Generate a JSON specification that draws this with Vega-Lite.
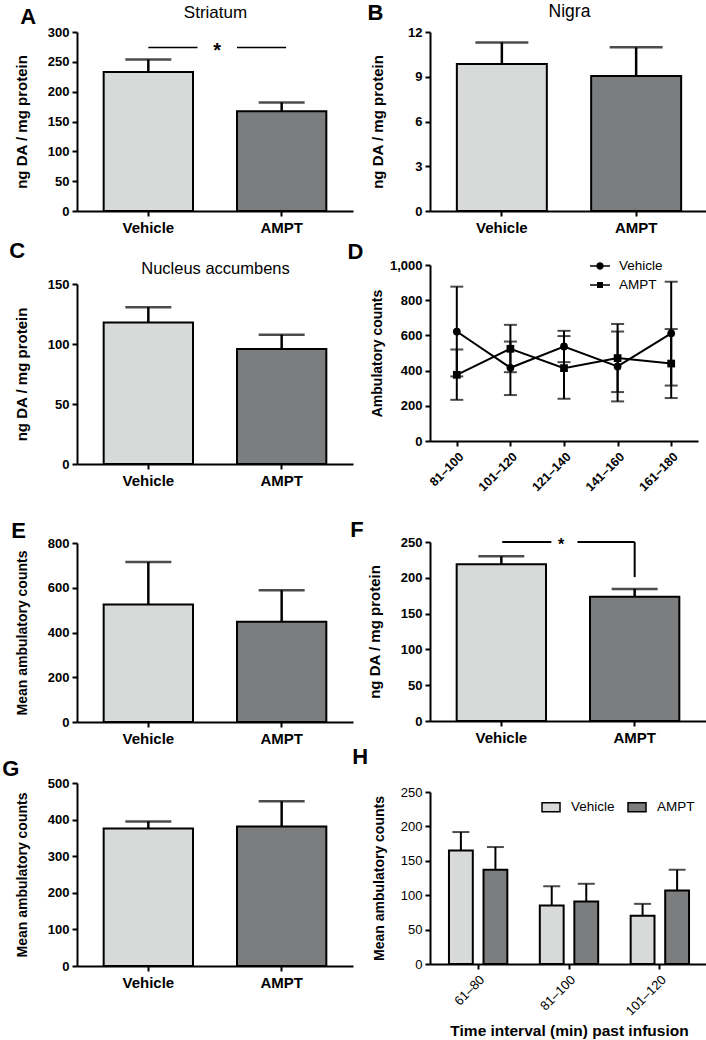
{
  "$schema": "https://vega.github.io/schema/vega-lite/v6.json",
  "background": "white",
  "padding": {"left": 2, "top": 2, "right": 0, "bottom": 0},
  "config": {
    "font": "Liberation Sans",
    "view": {"stroke": null},
    "axis": {"domainColor": "black", "domainWidth": 2, "tickColor": "black", "tickWidth": 2, "tickSize": 5, "labelColor": "black", "labelFontSize": 13, "labelFontWeight": "bold", "labelPadding": 3, "titleColor": "black", "titleFontSize": 15, "titleFontWeight": "bold", "grid": false},
    "title": {"color": "black", "fontSize": 22, "fontWeight": "bold", "anchor": "start", "frame": "bounds"},
    "legend": {"labelColor": "black"}
  },
  "resolve": {"scale": {"fill": "independent", "shape": "independent"}, "legend": {"fill": "independent", "shape": "independent"}},
  "hconcat": [
    {
      "resolve": {"scale": {"fill": "independent", "shape": "independent"}, "legend": {"fill": "independent", "shape": "independent"}},
      "vconcat": [
        {
          "width": 276, "height": 179,
          "title": {"text": "A", "offset": -26, "dx": 6},
          "data": {"values": [{"group": "Vehicle", "mean": 233, "upper": 254}, {"group": "AMPT", "mean": 167, "upper": 182}]},
          "layer": [
            {"mark": {"type": "bar", "stroke": "black", "strokeWidth": 2},
             "encoding": {
               "x": {"field": "group", "type": "nominal", "sort": ["Vehicle", "AMPT"], "scale": {"paddingInner": 0.33, "paddingOuter": 0.2}, "axis": {"title": null, "labelAngle": 0, "labelFontSize": 15, "labelPadding": 4}},
               "y": {"field": "mean", "type": "quantitative", "title": "ng DA / mg protein", "scale": {"domain": [0, 300], "nice": false}, "axis": {"values": [0, 50, 100, 150, 200, 250, 300], "titlePadding": 18}},
               "fill": {"field": "group", "type": "nominal", "scale": {"domain": ["Vehicle", "AMPT"], "range": ["#d8dada", "#7c7d7f"]}, "legend": null}
             }},
            {"mark": {"type": "rule", "strokeWidth": 2.5, "color": "black"},
             "encoding": {
               "x": {"field": "group", "type": "nominal", "sort": ["Vehicle", "AMPT"], "axis": {"orient": "top", "labels": false, "ticks": false, "domain": false, "title": "Striatum", "titleFontSize": 17, "titleFontWeight": "normal", "titlePadding": 11, "titleLimit": 400}},
               "y": {"field": "mean", "type": "quantitative", "title": "ng DA / mg protein", "axis": {"values": [0, 50, 100, 150, 200, 250, 300], "titlePadding": 18}},
               "y2": {"field": "upper"}
             }},
            {"mark": {"type": "tick", "size": 46, "thickness": 2.5, "color": "black"},
             "encoding": {
               "x": {"field": "group", "type": "nominal", "sort": ["Vehicle", "AMPT"], "axis": null},
               "y": {"field": "upper", "type": "quantitative", "title": "ng DA / mg protein", "axis": {"values": [0, 50, 100, 150, 200, 250, 300], "titlePadding": 18}}
             }},
            {"transform": [{"filter": "datum.group === 'Vehicle'"}],
             "mark": {"type": "rule", "strokeWidth": 1.5, "color": "black"},
             "encoding": {
               "x": {"field": "group", "type": "nominal", "sort": ["Vehicle", "AMPT"], "bandPosition": 0.5, "axis": null},
               "x2": {"field": "group", "bandPosition": 1.05},
               "y": {"datum": 274, "type": "quantitative", "title": "ng DA / mg protein", "axis": {"values": [0, 50, 100, 150, 200, 250, 300], "titlePadding": 18}}
             }},
            {"transform": [{"filter": "datum.group === 'AMPT'"}],
             "mark": {"type": "rule", "strokeWidth": 1.5, "color": "black"},
             "encoding": {
               "x": {"field": "group", "type": "nominal", "sort": ["Vehicle", "AMPT"], "bandPosition": 0.0, "axis": null},
               "x2": {"field": "group", "bandPosition": 0.55},
               "y": {"datum": 274, "type": "quantitative", "title": "ng DA / mg protein", "axis": {"values": [0, 50, 100, 150, 200, 250, 300], "titlePadding": 18}}
             }},
            {"transform": [{"filter": "datum.group === 'Vehicle'"}],
             "mark": {"type": "text", "text": "*", "fontSize": 20, "fontWeight": "bold", "baseline": "middle", "color": "black"},
             "encoding": {
               "x": {"field": "group", "type": "nominal", "sort": ["Vehicle", "AMPT"], "bandPosition": 1.27, "axis": null},
               "y": {"datum": 268, "type": "quantitative", "title": "ng DA / mg protein", "axis": {"values": [0, 50, 100, 150, 200, 250, 300], "titlePadding": 18}}
             }}
          ],
          "resolve": {"axis": {"x": "independent"}}
        },
        {"data": {"values": []}, "mark": "point", "width": 10, "height": 73},
        {
          "width": 276, "height": 180,
          "title": {"text": "C", "offset": -3, "dx": -5},
          "data": {"values": [{"group": "Vehicle", "mean": 118, "upper": 130.6}, {"group": "AMPT", "mean": 95.8, "upper": 107.8}]},
          "layer": [
            {"mark": {"type": "bar", "stroke": "black", "strokeWidth": 2},
             "encoding": {
               "x": {"field": "group", "type": "nominal", "sort": ["Vehicle", "AMPT"], "scale": {"paddingInner": 0.33, "paddingOuter": 0.2}, "axis": {"title": null, "labelAngle": 0, "labelFontSize": 15, "labelPadding": 4}},
               "y": {"field": "mean", "type": "quantitative", "title": "ng DA / mg protein", "scale": {"domain": [0, 150], "nice": false}, "axis": {"values": [0, 50, 100, 150], "titlePadding": 18}},
               "fill": {"field": "group", "type": "nominal", "scale": {"domain": ["Vehicle", "AMPT"], "range": ["#d8dada", "#7c7d7f"]}, "legend": null}
             }},
            {"mark": {"type": "rule", "strokeWidth": 2.5, "color": "black"},
             "encoding": {
               "x": {"field": "group", "type": "nominal", "sort": ["Vehicle", "AMPT"], "axis": {"orient": "top", "labels": false, "ticks": false, "domain": false, "title": "Nucleus accumbens", "titleFontSize": 16.5, "titleFontWeight": "normal", "titlePadding": 8, "titleLimit": 400}},
               "y": {"field": "mean", "type": "quantitative", "title": "ng DA / mg protein", "axis": {"values": [0, 50, 100, 150], "titlePadding": 18}},
               "y2": {"field": "upper"}
             }},
            {"mark": {"type": "tick", "size": 46, "thickness": 2.5, "color": "black"},
             "encoding": {
               "x": {"field": "group", "type": "nominal", "sort": ["Vehicle", "AMPT"], "axis": null},
               "y": {"field": "upper", "type": "quantitative", "title": "ng DA / mg protein", "axis": {"values": [0, 50, 100, 150], "titlePadding": 18}}
             }}
          ],
          "resolve": {"axis": {"x": "independent"}}
        },
        {"data": {"values": []}, "mark": "point", "width": 10, "height": 79},
        {
          "width": 276, "height": 179,
          "title": {"text": "E", "offset": -6, "dx": -4},
          "data": {"values": [{"group": "Vehicle", "mean": 525, "upper": 715}, {"group": "AMPT", "mean": 448, "upper": 589}]},
          "encoding": {
            "x": {"field": "group", "type": "nominal", "sort": ["Vehicle", "AMPT"], "scale": {"paddingInner": 0.33, "paddingOuter": 0.2}, "axis": {"title": null, "labelAngle": 0, "labelFontSize": 15, "labelPadding": 4}}
          },
          "layer": [
            {"mark": {"type": "bar", "stroke": "black", "strokeWidth": 2},
             "encoding": {
               "y": {"field": "mean", "type": "quantitative", "title": "Mean ambulatory counts", "scale": {"domain": [0, 800], "nice": false}, "axis": {"values": [0, 200, 400, 600, 800], "titlePadding": 18, "titleFontSize": 14}},
               "fill": {"field": "group", "type": "nominal", "scale": {"domain": ["Vehicle", "AMPT"], "range": ["#d8dada", "#7c7d7f"]}, "legend": null}
             }},
            {"mark": {"type": "rule", "strokeWidth": 2.5, "color": "black"},
             "encoding": {
               "y": {"field": "mean", "type": "quantitative", "title": "Mean ambulatory counts", "axis": {"values": [0, 200, 400, 600, 800], "titlePadding": 18, "titleFontSize": 14}},
               "y2": {"field": "upper"}
             }},
            {"mark": {"type": "tick", "size": 46, "thickness": 2.5, "color": "black"},
             "encoding": {
               "y": {"field": "upper", "type": "quantitative", "title": "Mean ambulatory counts", "axis": {"values": [0, 200, 400, 600, 800], "titlePadding": 18, "titleFontSize": 14}}
             }}
          ]
        },
        {"data": {"values": []}, "mark": "point", "width": 10, "height": 61},
        {
          "width": 276, "height": 183,
          "title": {"text": "G", "offset": -4, "dx": -13},
          "data": {"values": [{"group": "Vehicle", "mean": 376, "upper": 395}, {"group": "AMPT", "mean": 381, "upper": 450}]},
          "encoding": {
            "x": {"field": "group", "type": "nominal", "sort": ["Vehicle", "AMPT"], "scale": {"paddingInner": 0.33, "paddingOuter": 0.2}, "axis": {"title": null, "labelAngle": 0, "labelFontSize": 15, "labelPadding": 4}}
          },
          "layer": [
            {"mark": {"type": "bar", "stroke": "black", "strokeWidth": 2},
             "encoding": {
               "y": {"field": "mean", "type": "quantitative", "title": "Mean ambulatory counts", "scale": {"domain": [0, 500], "nice": false}, "axis": {"values": [0, 100, 200, 300, 400, 500], "titlePadding": 18, "titleFontSize": 14}},
               "fill": {"field": "group", "type": "nominal", "scale": {"domain": ["Vehicle", "AMPT"], "range": ["#d8dada", "#7c7d7f"]}, "legend": null}
             }},
            {"mark": {"type": "rule", "strokeWidth": 2.5, "color": "black"},
             "encoding": {
               "y": {"field": "mean", "type": "quantitative", "title": "Mean ambulatory counts", "axis": {"values": [0, 100, 200, 300, 400, 500], "titlePadding": 18, "titleFontSize": 14}},
               "y2": {"field": "upper"}
             }},
            {"mark": {"type": "tick", "size": 46, "thickness": 2.5, "color": "black"},
             "encoding": {
               "y": {"field": "upper", "type": "quantitative", "title": "Mean ambulatory counts", "axis": {"values": [0, 100, 200, 300, 400, 500], "titlePadding": 18, "titleFontSize": 14}}
             }}
          ]
        }
      ],
      "spacing": 0,
      "bounds": "flush"
    },
    {
      "resolve": {"scale": {"fill": "independent", "shape": "independent"}, "legend": {"fill": "independent", "shape": "independent"}},
      "vconcat": [
        {
          "width": 278, "height": 179,
          "title": {"text": "B", "offset": -23, "dx": -3},
          "data": {"values": [{"group": "Vehicle", "mean": 9.85, "upper": 11.3}, {"group": "AMPT", "mean": 9.05, "upper": 10.97}]},
          "layer": [
            {"mark": {"type": "bar", "stroke": "black", "strokeWidth": 2},
             "encoding": {
               "x": {"field": "group", "type": "nominal", "sort": ["Vehicle", "AMPT"], "scale": {"paddingInner": 0.33, "paddingOuter": 0.2}, "axis": {"title": null, "labelAngle": 0, "labelFontSize": 15, "labelPadding": 4}},
               "y": {"field": "mean", "type": "quantitative", "title": "ng DA / mg protein", "scale": {"domain": [0, 12], "nice": false}, "axis": {"values": [0, 3, 6, 9, 12], "titlePadding": 22}},
               "fill": {"field": "group", "type": "nominal", "scale": {"domain": ["Vehicle", "AMPT"], "range": ["#d8dada", "#7c7d7f"]}, "legend": null}
             }},
            {"mark": {"type": "rule", "strokeWidth": 2.5, "color": "black"},
             "encoding": {
               "x": {"field": "group", "type": "nominal", "sort": ["Vehicle", "AMPT"], "axis": {"orient": "top", "labels": false, "ticks": false, "domain": false, "title": "Nigra", "titleFontSize": 17.5, "titleFontWeight": "normal", "titlePadding": 12, "titleLimit": 400}},
               "y": {"field": "mean", "type": "quantitative", "title": "ng DA / mg protein", "axis": {"values": [0, 3, 6, 9, 12], "titlePadding": 22}},
               "y2": {"field": "upper"}
             }},
            {"mark": {"type": "tick", "size": 53, "thickness": 2.5, "color": "black"},
             "encoding": {
               "x": {"field": "group", "type": "nominal", "sort": ["Vehicle", "AMPT"], "axis": null},
               "y": {"field": "upper", "type": "quantitative", "title": "ng DA / mg protein", "axis": {"values": [0, 3, 6, 9, 12], "titlePadding": 22}}
             }}
          ],
          "resolve": {"axis": {"x": "independent"}}
        },
        {"data": {"values": []}, "mark": "point", "width": 10, "height": 54},
        {
          "width": 268, "height": 176,
          "title": {"text": "D", "offset": -8, "dx": -23},
          "data": {"values": [
            {"interval": "81–100", "group": "Vehicle", "mean": 622, "lower": 367, "upper": 877},
            {"interval": "101–120", "group": "Vehicle", "mean": 416, "lower": 261, "upper": 565},
            {"interval": "121–140", "group": "Vehicle", "mean": 537, "lower": 448, "upper": 626},
            {"interval": "141–160", "group": "Vehicle", "mean": 424, "lower": 225, "upper": 622},
            {"interval": "161–180", "group": "Vehicle", "mean": 612, "lower": 315, "upper": 905},
            {"interval": "81–100", "group": "AMPT", "mean": 376, "lower": 234, "upper": 520},
            {"interval": "101–120", "group": "AMPT", "mean": 524, "lower": 391, "upper": 660},
            {"interval": "121–140", "group": "AMPT", "mean": 414, "lower": 240, "upper": 596},
            {"interval": "141–160", "group": "AMPT", "mean": 471, "lower": 278, "upper": 665},
            {"interval": "161–180", "group": "AMPT", "mean": 440, "lower": 244, "upper": 636}
          ]},
          "encoding": {
            "x": {"field": "interval", "type": "nominal", "sort": ["81–100", "101–120", "121–140", "141–160", "161–180"], "scale": {"type": "point", "padding": 0.5}, "axis": {"title": null, "labelAngle": -45, "labelFontSize": 12.5, "labelPadding": 4}}
          },
          "layer": [
            {"mark": {"type": "rule", "strokeWidth": 2, "color": "black"},
             "encoding": {
               "y": {"field": "lower", "type": "quantitative", "title": "Ambulatory counts", "scale": {"domain": [0, 1000], "nice": false}, "axis": {"values": [0, 200, 400, 600, 800, 1000], "format": ",.0f", "titlePadding": 5, "titleFontSize": 14}},
               "y2": {"field": "upper"}
             }},
            {"mark": {"type": "tick", "size": 13, "thickness": 2, "color": "black"},
             "encoding": {"y": {"field": "upper", "type": "quantitative", "title": "Ambulatory counts", "axis": {"values": [0, 200, 400, 600, 800, 1000], "format": ",.0f", "titlePadding": 5, "titleFontSize": 14}}}},
            {"mark": {"type": "tick", "size": 13, "thickness": 2, "color": "black"},
             "encoding": {"y": {"field": "lower", "type": "quantitative", "title": "Ambulatory counts", "axis": {"values": [0, 200, 400, 600, 800, 1000], "format": ",.0f", "titlePadding": 5, "titleFontSize": 14}}}},
            {"mark": {"type": "line", "strokeWidth": 2, "color": "black"},
             "encoding": {"y": {"field": "mean", "type": "quantitative", "title": "Ambulatory counts", "axis": {"values": [0, 200, 400, 600, 800, 1000], "format": ",.0f", "titlePadding": 5, "titleFontSize": 14}}, "detail": {"field": "group"}}},
            {"mark": {"type": "point", "filled": true, "size": 60, "opacity": 1},
             "encoding": {
               "y": {"field": "mean", "type": "quantitative", "title": "Ambulatory counts", "axis": {"values": [0, 200, 400, 600, 800, 1000], "format": ",.0f", "titlePadding": 5, "titleFontSize": 14}},
               "shape": {"field": "group", "type": "nominal", "scale": {"domain": ["Vehicle", "AMPT"], "range": ["circle", "square"]}, "legend": null},
               "fill": {"field": "group", "type": "nominal", "sort": ["Vehicle", "AMPT"], "scale": {"range": ["black", "black"]},
                 "legend": {"orient": "none", "legendX": 160, "legendY": -9, "title": null, "symbolSize": 400, "symbolStrokeWidth": 0, "labelFontSize": 13.5, "labelFontWeight": "normal", "labelOffset": 9, "rowPadding": 2,
                   "symbolType": {"expr": "datum.value === 'Vehicle' ? 'M-1,-0.07H1V0.07H-1Z M0.37,0A0.37,0.37,0,1,1,-0.37,0A0.37,0.37,0,1,1,0.37,0Z' : 'M-1,-0.07H1V0.07H-1Z M-0.3,-0.3H0.3V0.3H-0.3Z'"}}}
             }}
          ]
        },
        {"data": {"values": []}, "mark": "point", "width": 10, "height": 101},
        {
          "width": 276, "height": 179,
          "title": {"text": "F", "offset": -6, "dx": -17},
          "data": {"values": [{"group": "Vehicle", "mean": 219, "upper": 230}, {"group": "AMPT", "mean": 173.5, "upper": 184.5}]},
          "layer": [
            {"mark": {"type": "bar", "stroke": "black", "strokeWidth": 2},
             "encoding": {
               "x": {"field": "group", "type": "nominal", "sort": ["Vehicle", "AMPT"], "scale": {"paddingInner": 0.33, "paddingOuter": 0.2}, "axis": {"title": null, "labelAngle": 0, "labelFontSize": 15, "labelPadding": 4}},
               "y": {"field": "mean", "type": "quantitative", "title": "ng DA / mg protein", "scale": {"domain": [0, 250], "nice": false}, "axis": {"values": [0, 50, 100, 150, 200, 250], "titlePadding": 18}},
               "fill": {"field": "group", "type": "nominal", "scale": {"domain": ["Vehicle", "AMPT"], "range": ["#d8dada", "#7c7d7f"]}, "legend": null}
             }},
            {"mark": {"type": "rule", "strokeWidth": 2.5, "color": "black"},
             "encoding": {
               "x": {"field": "group", "type": "nominal", "sort": ["Vehicle", "AMPT"]},
               "y": {"field": "mean", "type": "quantitative", "title": "ng DA / mg protein", "axis": {"values": [0, 50, 100, 150, 200, 250], "titlePadding": 18}},
               "y2": {"field": "upper"}
             }},
            {"mark": {"type": "tick", "size": 46, "thickness": 2.5, "color": "black"},
             "encoding": {
               "x": {"field": "group", "type": "nominal", "sort": ["Vehicle", "AMPT"]},
               "y": {"field": "upper", "type": "quantitative", "title": "ng DA / mg protein", "axis": {"values": [0, 50, 100, 150, 200, 250], "titlePadding": 18}}
             }},
            {"transform": [{"filter": "datum.group === 'Vehicle'"}],
             "mark": {"type": "rule", "strokeWidth": 2, "color": "black"},
             "encoding": {
               "x": {"field": "group", "type": "nominal", "sort": ["Vehicle", "AMPT"], "bandPosition": 0.51},
               "x2": {"field": "group", "bandPosition": 1.06},
               "y": {"datum": 250, "type": "quantitative", "title": "ng DA / mg protein", "axis": {"values": [0, 50, 100, 150, 200, 250], "titlePadding": 18}}
             }},
            {"transform": [{"filter": "datum.group === 'AMPT'"}],
             "mark": {"type": "rule", "strokeWidth": 2, "color": "black"},
             "encoding": {
               "x": {"field": "group", "type": "nominal", "sort": ["Vehicle", "AMPT"], "bandPosition": -0.14},
               "x2": {"field": "group", "bandPosition": 0.5},
               "y": {"datum": 250, "type": "quantitative", "title": "ng DA / mg protein", "axis": {"values": [0, 50, 100, 150, 200, 250], "titlePadding": 18}}
             }},
            {"transform": [{"filter": "datum.group === 'AMPT'"}],
             "mark": {"type": "rule", "strokeWidth": 2, "color": "black"},
             "encoding": {
               "x": {"field": "group", "type": "nominal", "sort": ["Vehicle", "AMPT"], "bandPosition": 0.5},
               "y": {"datum": 250, "type": "quantitative", "title": "ng DA / mg protein", "axis": {"values": [0, 50, 100, 150, 200, 250], "titlePadding": 18}},
               "y2": {"datum": 201}
             }},
            {"transform": [{"filter": "datum.group === 'Vehicle'"}],
             "mark": {"type": "text", "text": "*", "fontSize": 16, "fontWeight": "bold", "baseline": "middle", "color": "black"},
             "encoding": {
               "x": {"field": "group", "type": "nominal", "sort": ["Vehicle", "AMPT"], "bandPosition": 1.17},
               "y": {"datum": 246, "type": "quantitative", "title": "ng DA / mg protein", "axis": {"values": [0, 50, 100, 150, 200, 250], "titlePadding": 18}}
             }}
          ]
        },
        {"data": {"values": []}, "mark": "point", "width": 10, "height": 71},
        {
          "width": 278, "height": 172,
          "title": {"text": "H", "offset": 17, "dx": -20},
          "data": {"values": [
            {"interval": "61–80", "group": "Vehicle", "mean": 165, "upper": 191.8},
            {"interval": "61–80", "group": "AMPT", "mean": 137, "upper": 170},
            {"interval": "81–100", "group": "Vehicle", "mean": 85, "upper": 113},
            {"interval": "81–100", "group": "AMPT", "mean": 90.7, "upper": 116.6},
            {"interval": "101–120", "group": "Vehicle", "mean": 70.3, "upper": 87.4},
            {"interval": "101–120", "group": "AMPT", "mean": 107, "upper": 137}
          ]},
          "encoding": {
            "x": {"field": "interval", "type": "nominal", "sort": ["61–80", "81–100", "101–120"], "scale": {"paddingInner": 0, "paddingOuter": 0.03}, "axis": {"title": "Time interval (min) past infusion", "labelAngle": -45, "labelFontSize": 13, "labelFontWeight": "normal", "labelPadding": 4, "titleFontSize": 15.5, "titlePadding": 6}},
            "xOffset": {"field": "group", "type": "nominal", "sort": ["Vehicle", "AMPT"], "scale": {"paddingInner": 0.31, "paddingOuter": 0.47}}
          },
          "layer": [
            {"mark": {"type": "bar", "stroke": "black", "strokeWidth": 2},
             "encoding": {
               "y": {"field": "mean", "type": "quantitative", "title": "Mean ambulatory counts", "scale": {"domain": [0, 250], "nice": false}, "axis": {"values": [0, 50, 100, 150, 200, 250], "titlePadding": 14, "titleFontSize": 14, "labelFontWeight": "normal"}},
               "fill": {"field": "group", "type": "nominal", "scale": {"domain": ["Vehicle", "AMPT"], "range": ["#d8dada", "#7c7d7f"]},
                 "legend": {"orient": "none", "legendX": 111, "legendY": 5, "direction": "horizontal", "title": null, "symbolType": "M-1,-0.5H1V0.5H-1Z", "symbolSize": 324, "symbolStrokeColor": "black", "symbolStrokeWidth": 1.5, "labelFontSize": 13.5, "labelFontWeight": "normal", "labelOffset": 10, "columnPadding": 10}}
             }},
            {"mark": {"type": "rule", "strokeWidth": 2, "color": "black"},
             "encoding": {
               "y": {"field": "mean", "type": "quantitative", "title": "Mean ambulatory counts", "axis": {"values": [0, 50, 100, 150, 200, 250], "titlePadding": 14, "titleFontSize": 14, "labelFontWeight": "normal"}},
               "y2": {"field": "upper"}
             }},
            {"mark": {"type": "tick", "size": 17, "thickness": 2, "color": "black"},
             "encoding": {"y": {"field": "upper", "type": "quantitative", "title": "Mean ambulatory counts", "axis": {"values": [0, 50, 100, 150, 200, 250], "titlePadding": 14, "titleFontSize": 14, "labelFontWeight": "normal"}}}}
          ]
        }
      ],
      "spacing": 0,
      "bounds": "flush"
    }
  ],
  "spacing": -6
}
